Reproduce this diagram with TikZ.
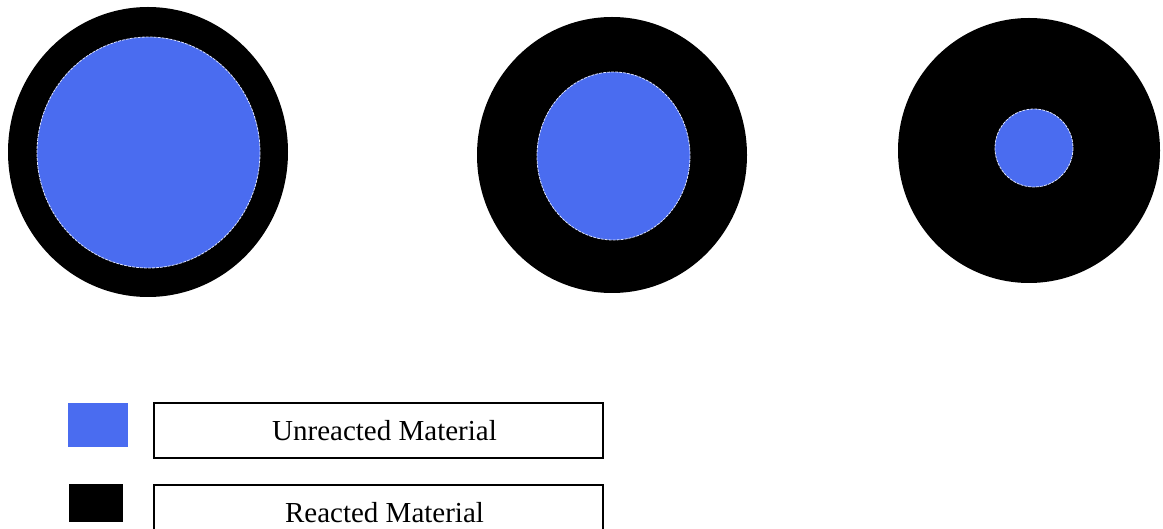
\documentclass[tikz,border=0pt]{standalone}
\usepackage{fontspec}
\setmainfont{Liberation Serif}
\definecolor{unreacted}{RGB}{74,108,240}
\begin{document}
\begin{tikzpicture}[x=1pt,y=-1pt,
  core/.style={fill=unreacted,draw=white!80!unreacted,line width=0.8pt,dash pattern=on 3pt off 1pt},
  shell/.style={fill=black},
  legendbox/.style={draw=black,line width=2pt,minimum width=449pt,minimum height=55pt,inner sep=0pt},
  legendtext/.style={anchor=base,font=\fontsize{29}{34}\selectfont,inner sep=0pt}]
\useasboundingbox (0,0) rectangle (1163,529);
\clip (0,0) rectangle (1163,529);
% particle 1
\fill[shell] (148,152) ellipse [x radius=140, y radius=145];
\filldraw[core] (148.5,152.5) ellipse [x radius=111.5, y radius=115.5];
% particle 2
\fill[shell] (612,155) ellipse [x radius=135, y radius=138];
\filldraw[core] (613.5,156) ellipse [x radius=76.5, y radius=84];
% particle 3
\fill[shell] (1029,150.5) ellipse [x radius=131, y radius=132.5];
\filldraw[core] (1034,148) circle [radius=39];
% legend
\fill[unreacted] (68,403) rectangle (128,447);
\fill[black] (69,484) rectangle (123,522);
\node[legendbox] (boxU) at (378.5,430.25) {};
\node[legendtext] (txtU) at (384.5,441) {Unreacted Material};
\node[legendbox] (boxR) at (378.5,512.5) {};
\node[legendtext] (txtR) at (384.5,522) {Reacted Material};
\end{tikzpicture}
\end{document}
